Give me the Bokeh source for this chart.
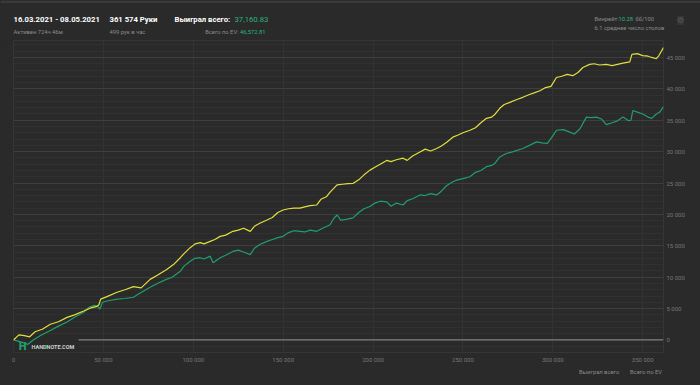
from bokeh.plotting import figure
from bokeh.layouts import column
from bokeh.models import Range1d, FixedTicker, Span, Label, Legend, LegendItem, BoxAnnotation
from bokeh.embed import file_html
from bokeh.resources import INLINE

# ---------------- data ----------------
ev_hands = [0, 3000, 6000, 9000, 12000, 16000, 20500, 25000, 29800, 34000,
            39000, 43000, 46000, 47500, 48500, 52000, 57600, 62000, 66700, 71000,
            76000, 80000, 85000, 89000, 92800, 95000, 98300, 101000, 103900, 106000,
            109400, 112000, 115000, 118000, 122000, 125000, 128000, 131700, 134000, 137000,
            141000, 144000, 147000, 150000, 153000, 156000, 159400, 162000, 165000, 168700,
            171000, 174000, 176000, 180000, 183000, 186000, 189000, 192000, 195000, 198300,
            201000, 204000, 207600, 210000, 213000, 216700, 219000, 222000, 226100, 229000,
            232000, 235400, 238000, 241000, 244400, 247000, 250000, 253900, 257000, 260000,
            263100, 266000, 268000, 270500, 273000, 276100, 280000, 283300, 287000, 290000,
            292800, 296000, 299000, 302000, 305000, 308000, 311100, 314000, 316700, 320500,
            323000, 326000, 329800, 333000, 336000, 339000, 342800, 344000, 347000, 350000,
            353000, 355000, 357600, 359000, 361574]
ev_values = [0, 800, 700, 500, 1300, 1700, 2500, 2900, 3600, 4000,
             4600, 5100, 5300, 5600, 6500, 6900, 7600, 8000, 8500, 8300,
             9650, 10300, 11200, 12000, 13100, 13800, 14700, 15300, 15500, 15300,
             15700, 16000, 16500, 16700, 17300, 17500, 17800, 17300, 18100, 18600,
             19100, 19500, 20300, 20700, 20900, 21000, 21000, 21200, 21400, 21500,
             22400, 22800, 23500, 24700, 24800, 24900, 24950, 25500, 26300, 27050,
             27500, 28000, 28600, 28400, 28700, 28950, 28600, 29300, 29950, 30400,
             30100, 30500, 30900, 31500, 32300, 32600, 33000, 33400, 33800, 34600,
             35300, 35500, 36000, 36900, 37500, 37850, 38300, 38650, 39100, 39400,
             39700, 40200, 40400, 41800, 42000, 42300, 42100, 42600, 43400, 43900,
             44000, 43800, 43900, 43700, 43900, 44100, 44300, 45500, 45600, 45300,
             45200, 45000, 44800, 45300, 46572]

won_hands = [0, 4000, 8000, 11000, 15000, 20500, 25000, 29800, 34000, 39000,
             42000, 45000, 47000, 48000, 49500, 52000, 57600, 62000, 66700, 70000,
             76000, 80000, 85000, 88000, 92800, 95000, 98300, 101000, 103900, 106000,
             109400, 111000, 115000, 118000, 122000, 125000, 128000, 131700, 134000, 137000,
             141000, 144000, 147000, 150000, 153000, 156000, 159400, 162000, 165000, 168700,
             172000, 176100, 178000, 180000, 182000, 185000, 188900, 192000, 195000, 198300,
             201000, 204000, 207600, 210000, 213000, 216700, 219000, 222000, 226100, 229000,
             232000, 235400, 238000, 241000, 244400, 247000, 250000, 253900, 257000, 260000,
             263100, 266000, 268000, 270500, 274100, 278000, 283300, 287000, 290900, 294000,
             297000, 300000, 302000, 306000, 309400, 312000, 315000, 318700, 321000, 324300,
             327000, 329800, 333000, 336000, 339000, 342000, 343500, 344500, 347000, 350000,
             353000, 355000, 357600, 359500, 361574]
won_values = [0, -300, -700, 0, 700, 1500, 2200, 2850, 3600, 4400,
              5200, 5500, 5300, 4900, 6000, 6200, 6500, 6600, 6800, 7400,
              8400, 9000, 9650, 9950, 10950, 11800, 12550, 13000, 13100, 12900,
              13350, 12300, 13100, 13500, 14100, 14300, 14000, 13600, 14600, 15200,
              15700, 16000, 16300, 16500, 17100, 17400, 17300, 17200, 17500, 17300,
              17800, 18350, 19300, 19900, 19100, 19200, 19450, 20300, 20900, 21250,
              21800, 22100, 22000, 21300, 21800, 21500, 22200, 22500, 23100, 23000,
              23300, 23100, 23700, 24600, 25200, 25500, 25700, 26000, 26700, 27000,
              27600, 27800, 28200, 29150, 29700, 30000, 30500, 31000, 31550, 31400,
              31300, 32500, 33400, 33500, 33100, 32800, 33600, 35500, 35400, 35500,
              35200, 34300, 34600, 34900, 35500, 34950, 35000, 36550, 36300, 36000,
              35500, 35300, 36000, 36300, 37160]

x_ticks = [0, 50000, 100000, 150000, 200000, 250000, 300000, 350000]
x_tick_labels = ["0", "50 000", "100 000", "150 000", "200 000", "250 000", "300 000", "350 000"]
y_ticks = [0, 5000, 10000, 15000, 20000, 25000, 30000, 35000, 40000, 45000]
y_tick_labels = ["0", "5 000", "10 000", "15 000", "20 000", "25 000", "30 000", "35 000", "40 000", "45 000"]
y_minor_ticks = [-2000, -1000, 1000, 2000, 3000, 4000, 6000, 7000, 8000, 9000, 11000, 12000, 13000, 14000,
                 16000, 17000, 18000, 19000, 21000, 22000, 23000, 24000, 26000, 27000, 28000, 29000,
                 31000, 32000, 33000, 34000, 36000, 37000, 38000, 39000, 41000, 42000, 43000, 44000,
                 46000, 47000]

# ---------------- style ----------------
BG = "#2a2a2a"
GREEN = "#1f9f6b"
GREEN_TXT = "#2bb47a"
YELLOW = "#e2df3c"
GRAY = "#8a8a8a"
FONT = "Roboto"

W = 700
HEADER_H, MAIN_H, FOOTER_H = 40, 325, 20
FL, FR, FT, FB = 13, 663, 40, 353      # frame edges in window pixels
X0, X1 = 0, 361574
Y0, Y1 = -2000, 47700


def blank_fig(h, y_top):
    f = figure(width=W, height=h, output_backend="svg", toolbar_location=None,
               x_range=Range1d(0, W), y_range=Range1d(y_top + h, y_top),
               x_axis_type=None, y_axis_type=None, frame_align=False,
               min_border=0, min_border_left=0, min_border_right=0,
               min_border_top=0, min_border_bottom=0,
               background_fill_color=BG, border_fill_color=BG, outline_line_color=None)
    f.grid.visible = False
    return f


def lab(f, x, y, text, color, size, style="normal", align="left", font=FONT, **kw):
    f.add_layout(Label(x=x, y=y, text=text, text_color=color, text_font=font,
                       text_font_size=size, text_font_style=style, text_align=align,
                       text_baseline="middle", **kw))


# ---------------- header ----------------
head = blank_fig(HEADER_H, 0)
head.add_layout(BoxAnnotation(left=0, right=W, top=0, bottom=2.5, fill_color="#3a3a3a",
                              fill_alpha=1, line_color=None))
lab(head, 13, 19, "16.03.2021 - 08.05.2021", "#ffffff", "7.7px", "bold")
lab(head, 13, 31, "Активен 724ч 46м", GRAY, "5.8px")
lab(head, 109, 19, "361 574 Руки", "#ffffff", "7.7px", "bold")
lab(head, 109, 31, "499 рук в час", GRAY, "5.8px")
lab(head, 174, 19, "Выиграл всего:", "#ffffff", "7.7px", "bold")
lab(head, 234, 19, "37,160.83", GREEN_TXT, "7.7px")
lab(head, 238, 31, "Всего по EV:", GRAY, "5.8px", align="right")
lab(head, 265, 31, "46,572.81", GREEN_TXT, "5.8px", align="right")
lab(head, 594, 18, "Винрейт:", GRAY, "5.8px")
lab(head, 618, 18, "10.28", GREEN_TXT, "5.8px")
lab(head, 635, 18, "бб/100", GRAY, "5.8px")
lab(head, 594, 27, "6.1 среднее число столов", GRAY, "5.8px")
lab(head, 680, 20, "⚙", "#5a5a5a", "8px", align="center", font="DejaVu Sans",
    background_fill_color="#353535")

# ---------------- main chart ----------------
p = figure(width=W, height=MAIN_H, output_backend="svg", toolbar_location=None,
           x_range=Range1d(X0, X1), y_range=Range1d(Y0, Y1), y_axis_location="right",
           frame_align=False,
           min_border_left=FL, min_border_right=W - FR,
           min_border_top=FT - HEADER_H, min_border_bottom=HEADER_H + MAIN_H - FB,
           background_fill_color=BG, border_fill_color=BG,
           outline_line_color="#363636")

for ax in (p.xaxis[0], p.yaxis[0]):
    ax.axis_line_color = None
    ax.major_tick_line_color = None
    ax.minor_tick_line_color = None
    ax.major_tick_out = 0
    ax.major_tick_in = 0
    ax.minor_tick_out = 0
    ax.major_label_text_color = "#777777"
    ax.major_label_text_font = FONT
    ax.major_label_text_font_size = "6px"
    ax.major_label_standoff = 3
p.xaxis.ticker = FixedTicker(ticks=x_ticks)
p.xaxis.major_label_overrides = dict(zip(x_ticks, x_tick_labels))
p.yaxis.ticker = FixedTicker(ticks=y_ticks)
p.yaxis.major_label_overrides = dict(zip(y_ticks, y_tick_labels))

p.xgrid.ticker = FixedTicker(ticks=x_ticks)
p.xgrid.grid_line_color = "#333333"
p.ygrid.ticker = FixedTicker(ticks=y_ticks, minor_ticks=y_minor_ticks)
p.ygrid.grid_line_color = "#3e3e3e"
p.ygrid.minor_grid_line_color = "#313131"


def dx(px):
    return X0 + (px - FL) / (FR - FL) * (X1 - X0)


def dy(py):
    return Y0 + (FB - py) / (FB - FT) * (Y1 - Y0)


p.add_layout(Span(location=0, dimension="width", line_color="#7e7e7e", line_width=1.3, level="underlay"))
p.add_layout(BoxAnnotation(left=dx(FL), right=dx(78), bottom=Y0, top=dy(336),
                           fill_color=BG, fill_alpha=1, line_color=None, level="underlay"))

won_r = p.line(won_hands, won_values, line_color=GREEN, line_width=1.2)
ev_r = p.line(ev_hands, ev_values, line_color=YELLOW, line_width=1.2)

# logo
lab(p, dx(18), dy(347), "H", GREEN, "10px", "bold", font="DejaVu Sans")
lab(p, dx(31), dy(347), "HAND", "#cfcfcf", "5.5px", "bold")
lab(p, dx(43.5), dy(347), "2", GREEN_TXT, "5.5px", "bold")
lab(p, dx(46), dy(347), "NOTE.COM", "#cfcfcf", "5.5px", "bold")

# ---------------- footer legend ----------------
foot = blank_fig(FOOTER_H, HEADER_H + MAIN_H)
sq_won = foot.scatter([], [], marker="square", size=4, color=GREEN)
sq_ev = foot.scatter([], [], marker="square", size=4, color=YELLOW)
legend_style = dict(orientation="horizontal",
                    label_text_font=FONT, label_text_font_size="5.8px", label_text_color=GRAY,
                    glyph_width=8, glyph_height=8, label_standoff=1, spacing=0,
                    padding=0, margin=0, label_height=8, label_width=10,
                    background_fill_alpha=0, border_line_alpha=0)
foot.add_layout(Legend(items=[LegendItem(label="Выиграл всего", renderers=[sq_won])],
                       location=(570, 9), **legend_style))
foot.add_layout(Legend(items=[LegendItem(label="Всего по EV", renderers=[sq_ev])],
                       location=(621, 9), **legend_style))

layout = column(head, p, foot, spacing=0)

TEMPLATE = """{% block preamble %}<style>html, body { background: #2a2a2a; }</style>{% endblock %}"""

open("out.html", "w").write(file_html(layout, INLINE, "chart", template=TEMPLATE))
